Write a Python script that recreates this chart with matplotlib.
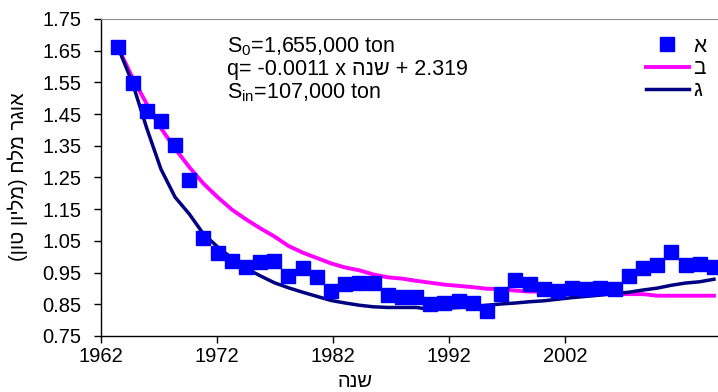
import numpy as np
import matplotlib
matplotlib.use('Agg')
import matplotlib.pyplot as plt

plt.rcParams['font.family'] = ['Liberation Sans', 'DejaVu Sans']
plt.rcParams['mathtext.default'] = 'regular'

# נתונים - שנים ואוגר מלח (מליון טון)
years = np.arange(1963, 2006)
measured = [1.661, 1.549, 1.460, 1.429, 1.352, 1.242, 1.058, 1.013, 0.988, 0.969,
            0.982, 0.988, 0.939, 0.965, 0.935, 0.892, 0.914, 0.918, 0.917, 0.879,
            0.872, 0.872, 0.850, 0.853, 0.861, 0.853, 0.829, 0.882, 0.927, 0.914,
            0.897, 0.892, 0.901, 0.897, 0.902, 0.897, 0.939, 0.965, 0.974, 1.016,
            0.974, 0.977, 0.969]
model_b = [1.658, 1.565, 1.482, 1.406, 1.341, 1.283, 1.231, 1.188, 1.149, 1.118,
           1.090, 1.064, 1.034, 1.013, 0.996, 0.979, 0.966, 0.957, 0.944, 0.935,
           0.931, 0.924, 0.918, 0.912, 0.908, 0.904, 0.899, 0.898, 0.893, 0.890,
           0.890, 0.889, 0.887, 0.885, 0.884, 0.882, 0.882, 0.882, 0.877, 0.877,
           0.877, 0.877, 0.877]
model_g = [1.658, 1.548, 1.406, 1.277, 1.188, 1.135, 1.072, 1.031, 0.996, 0.963,
           0.940, 0.918, 0.902, 0.888, 0.875, 0.862, 0.854, 0.847, 0.842, 0.840,
           0.840, 0.840, 0.834, 0.837, 0.840, 0.842, 0.847, 0.851, 0.854, 0.858,
           0.861, 0.866, 0.871, 0.875, 0.879, 0.884, 0.888, 0.895, 0.901, 0.910,
           0.917, 0.921, 0.929]
tick_labels = ['1962', '1972', '1982', '1992', '2002']
yticks = [0.75, 0.85, 0.95, 1.05, 1.15, 1.25, 1.35, 1.45, 1.55, 1.65, 1.75]

fig = plt.figure(figsize=(7.18, 3.92), dpi=100)
ax = fig.add_axes([0.1403, 0.1429, 0.8653, 0.8087])

ax.plot(years, model_b, color='#FF00FF', lw=2.8, label='ב', zorder=2)
ax.plot(years, model_g, color='#000080', lw=2.5, label='ג', zorder=3)
ax.plot(years, measured, ls='none', marker='s', ms=10, color='#0000FF',
        mec='#0000FF', label='א', zorder=4)

x0 = 1961.76
ax.set_xlim(x0, 2005.57)
ax.set_ylim(0.75, 1.75)
ax.set_xticks([x0 + 8.19 * i for i in range(len(tick_labels))])
ax.set_xticklabels(tick_labels)
ax.set_yticks(yticks)
ax.set_yticklabels(['%.2f' % v for v in yticks])
ax.tick_params(labelsize=14.5, direction='out', length=5, width=1, colors='black')
ax.tick_params(axis='y', pad=9)
ax.tick_params(axis='x', pad=3)

ax.spines['right'].set_visible(False)
ax.spines['top'].set_color('#909090')
ax.spines['left'].set_linewidth(1)
ax.spines['bottom'].set_linewidth(1)

fig.text(0.495, 0.028, 'הנש', fontsize=14.5, ha='center', va='center')
fig.text(0.025, 0.55, '(ןוט ןוילמ) חלמ רגוא', fontsize=14.5, rotation=90,
         ha='center', va='center')

fig.text(0.316, 0.88, 'S$_0$=1,655,000 ton', fontsize=15.5, va='center')
fig.text(0.316, 0.822, 'q= -0.0011 x הנש + 2.319', fontsize=15.5, va='center')
fig.text(0.316, 0.764, 'S$_{in}$=107,000 ton', fontsize=15.5, va='center')

handles, labels = ax.get_legend_handles_labels()
order = [2, 0, 1]
fig.legend([handles[i] for i in order], [labels[i] for i in order],
           loc='upper right', bbox_to_anchor=(0.99, 0.917), frameon=False,
           fontsize=15, handlelength=2.1, labelspacing=0.16, handletextpad=0.2,
           borderpad=0.1, borderaxespad=0.1)

fig.savefig('out.png', dpi=100)
